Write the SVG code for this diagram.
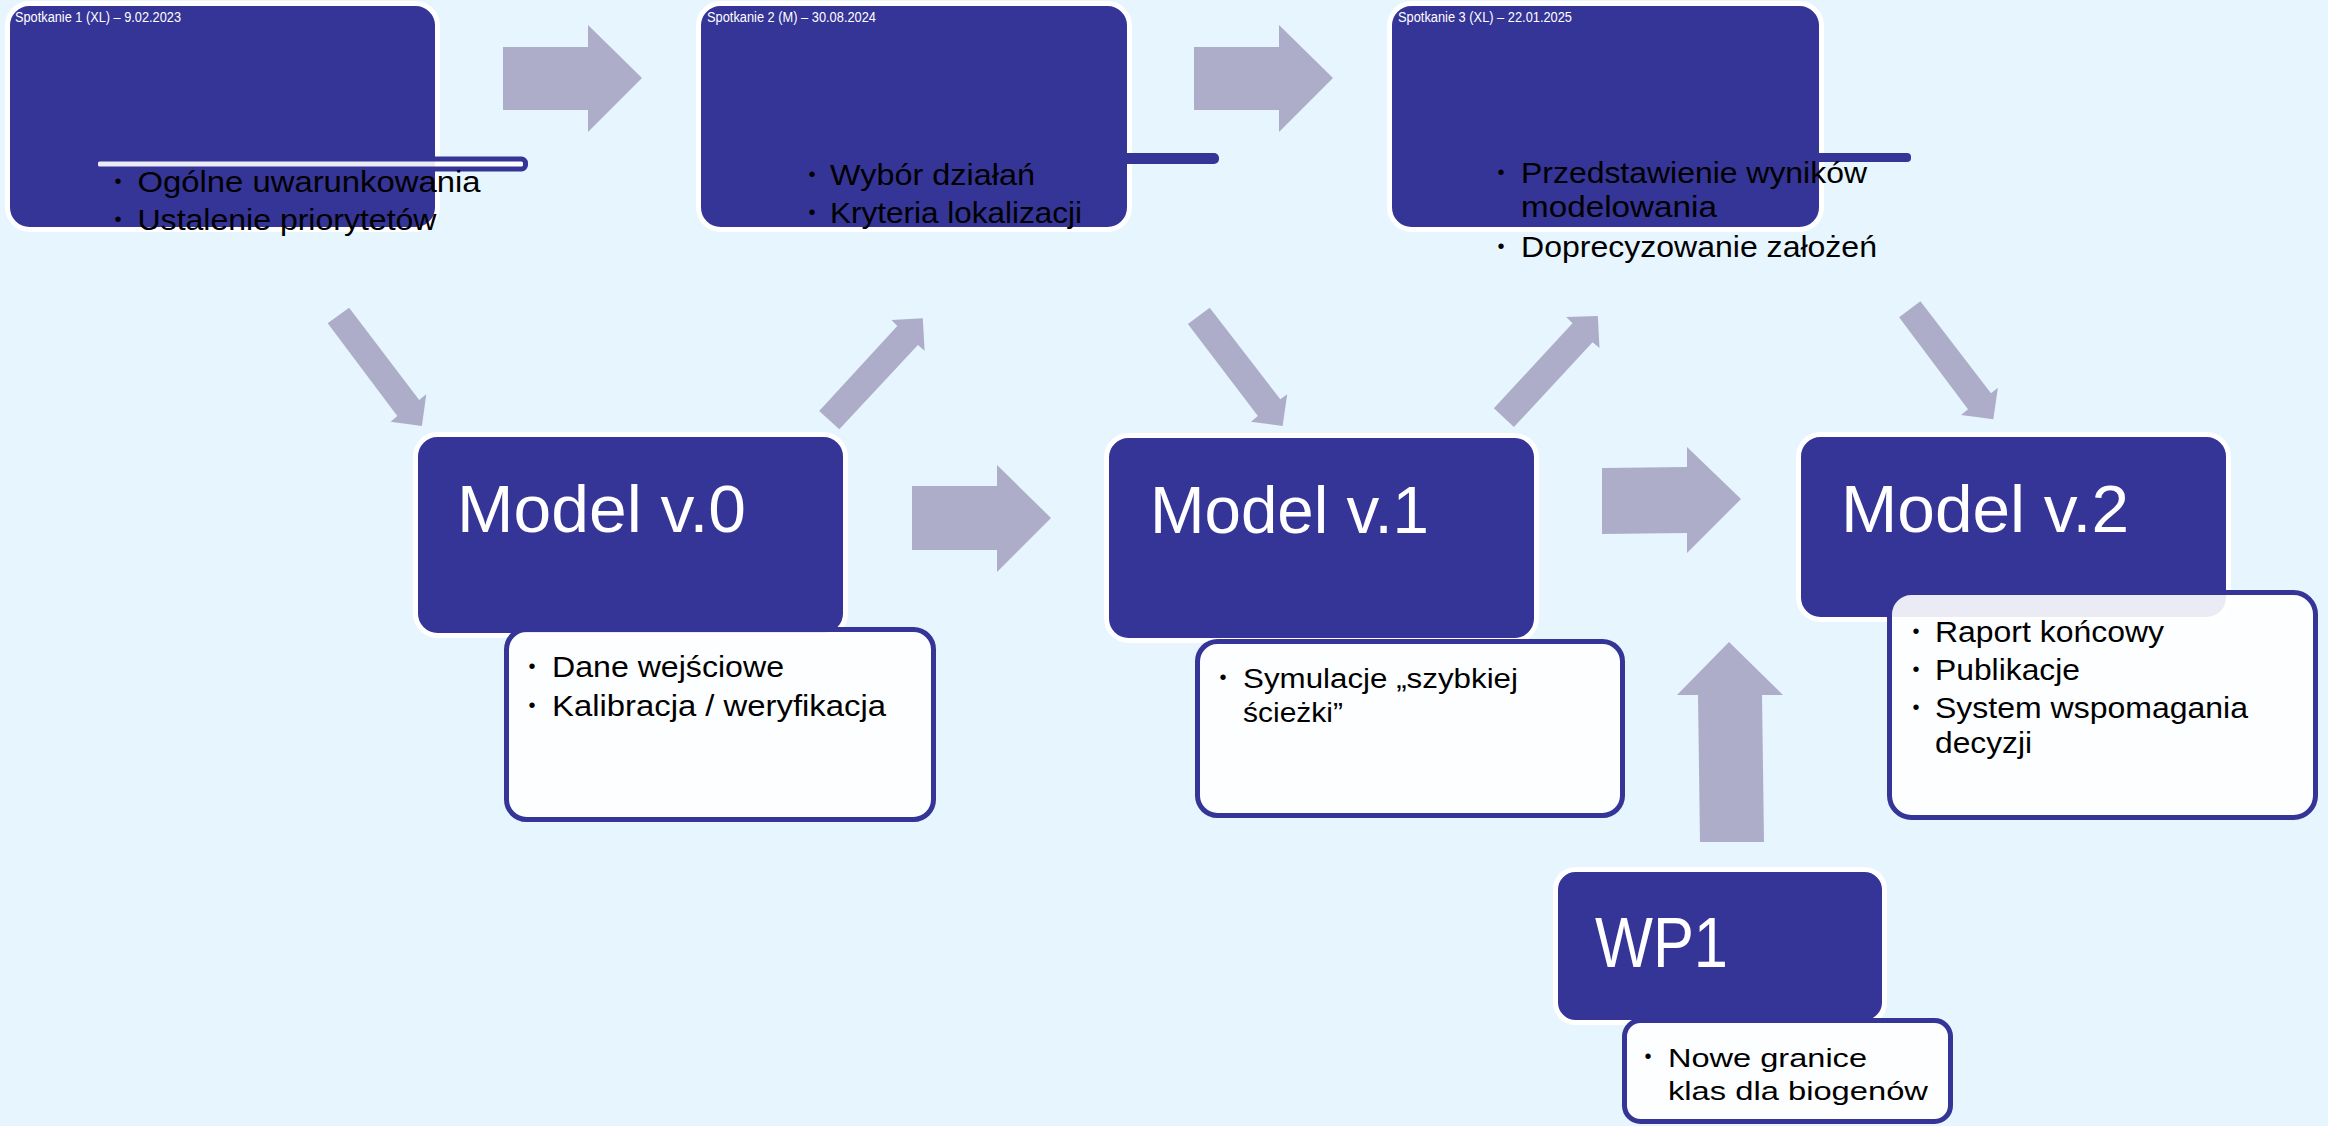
<svg xmlns="http://www.w3.org/2000/svg" width="2328" height="1126" viewBox="0 0 2328 1126">
<style>
.bg{fill:#E6F5FE}
.head{fill:#353497;stroke:#FFFFFF;stroke-width:5}
.child{fill:#FFFFFF;fill-opacity:0.9;stroke:#353497;stroke-width:5}
.arrow{fill:#ADADC9}
.bar{fill:#353497}
text{font-family:"Liberation Sans","DejaVu Sans",sans-serif}
.date{fill:#FFFFFF;font-size:14px}
.title{fill:#FFFFFF;font-size:67px}
.wp{fill:#FFFFFF;font-size:70px}
.t29{fill:#000000;font-size:29px}
.t30{fill:#000000;font-size:30px}
.t27{fill:#000000;font-size:27px}
.t26{fill:#000000;font-size:26px}
.dot{fill:#000000;font-size:20px}
</style>
<rect class="bg" x="0" y="0" width="2328" height="1126"/>

<g id="connectors">
  <polygon class="arrow" points="503,47 588,47 588,25 642,78 588,132 588,110 503,110"/>
  <polygon class="arrow" points="1194,47 1279,47 1279,25 1333,78 1279,132 1279,110 1194,110"/>
  <polygon class="arrow" points="912,486 997,486 997,465 1051,518 997,572 997,550 912,550"/>
  <polygon class="arrow" points="1602,468 1687,467 1687,447 1741,499 1687,553 1687,533 1602,534"/>
  <polygon class="arrow" points="1729,642 1783,695 1762,695 1764,842 1700,842 1698,695 1677,695"/>
  <polygon class="arrow" points="327.7,323.3 349.1,307.7 419.2,400 426.3,394.3 421.9,426 390.6,421.7 397.3,416"/>
  <polygon class="arrow" points="819.2,411 839.3,429.3 917.9,345 924.6,350.7 922.8,318.3 891.5,320 897.3,326"/>
  <polygon class="arrow" points="1187.9,324 1209.7,307.7 1280.3,399.3 1287.2,394.3 1282.6,426 1251,421.7 1257.9,416"/>
  <polygon class="arrow" points="1493.9,408.3 1513.9,427 1592.6,342.3 1599.5,348 1597.8,316 1566.2,317 1572.5,323.3"/>
  <polygon class="arrow" points="1899.1,317.3 1920.4,301.3 1991,393.3 1997.9,387.7 1993.3,419.3 1961.1,415 1968,409.3"/>
</g>

<g id="spotkanie1">
  <rect class="head" x="7.5" y="3.5" width="430" height="226" rx="22"/>
  <text class="date" x="15" y="22" textLength="166" lengthAdjust="spacingAndGlyphs">Spotkanie 1 (XL) – 9.02.2023</text>
  <rect class="child" x="95.5" y="159" width="430" height="10" rx="4" stroke-width="4"/>
  <text class="dot" x="114.5" y="188">•</text>
  <text class="t29" x="137.5" y="192" textLength="343" lengthAdjust="spacingAndGlyphs">Ogólne uwarunkowania</text>
  <text class="dot" x="114.5" y="226">•</text>
  <text class="t29" x="137.5" y="230" textLength="299" lengthAdjust="spacingAndGlyphs">Ustalenie priorytetów</text>
</g>

<g id="spotkanie2">
  <rect class="head" x="698.5" y="3.5" width="431" height="226" rx="22"/>
  <text class="date" x="707" y="22" textLength="169" lengthAdjust="spacingAndGlyphs">Spotkanie 2 (M) – 30.08.2024</text>
  <rect class="bar" x="790" y="153" width="429" height="11" rx="5"/>
  <text class="dot" x="808.5" y="181">•</text>
  <text class="t29" x="830" y="185" textLength="205" lengthAdjust="spacingAndGlyphs">Wybór działań</text>
  <text class="dot" x="808.5" y="219">•</text>
  <text class="t29" x="830" y="223" textLength="252" lengthAdjust="spacingAndGlyphs">Kryteria lokalizacji</text>
</g>

<g id="spotkanie3">
  <rect class="head" x="1389.5" y="3.5" width="432" height="226" rx="22"/>
  <text class="date" x="1398" y="22" textLength="174" lengthAdjust="spacingAndGlyphs">Spotkanie 3 (XL) – 22.01.2025</text>
  <rect class="bar" x="1480" y="153" width="431" height="9" rx="4"/>
  <text class="dot" x="1497.5" y="179">•</text>
  <text class="t29" x="1521" y="183" textLength="346" lengthAdjust="spacingAndGlyphs">Przedstawienie wyników</text>
  <text class="t29" x="1521" y="217" textLength="196" lengthAdjust="spacingAndGlyphs">modelowania</text>
  <text class="dot" x="1497.5" y="253">•</text>
  <text class="t29" x="1521" y="257" textLength="356" lengthAdjust="spacingAndGlyphs">Doprecyzowanie założeń</text>
</g>

<g id="model-v0">
  <rect class="head" x="415.5" y="434.5" width="430" height="201" rx="22"/>
  <text class="title" x="457" y="532" textLength="289" lengthAdjust="spacingAndGlyphs">Model v.0</text>
  <rect class="child" x="506.5" y="629.5" width="427" height="190" rx="20"/>
  <text class="dot" x="528.5" y="673">•</text>
  <text class="t30" x="552" y="677" textLength="232" lengthAdjust="spacingAndGlyphs">Dane wejściowe</text>
  <text class="dot" x="528.5" y="712">•</text>
  <text class="t30" x="552" y="716" textLength="334" lengthAdjust="spacingAndGlyphs">Kalibracja / weryfikacja</text>
</g>

<g id="model-v1">
  <rect class="head" x="1106.5" y="435.5" width="430" height="205" rx="22"/>
  <text class="title" x="1150" y="533" textLength="279" lengthAdjust="spacingAndGlyphs">Model v.1</text>
  <rect class="child" x="1197.5" y="641.5" width="425" height="174" rx="20"/>
  <text class="dot" x="1219.5" y="684">•</text>
  <text class="t27" x="1243" y="688" textLength="275" lengthAdjust="spacingAndGlyphs">Symulacje „szybkiej</text>
  <text class="t27" x="1243" y="722" textLength="100" lengthAdjust="spacingAndGlyphs">ścieżki”</text>
</g>

<g id="model-v2">
  <rect class="head" x="1798.5" y="434.5" width="430" height="185" rx="22"/>
  <text class="title" x="1841" y="532" textLength="288" lengthAdjust="spacingAndGlyphs">Model v.2</text>
  <rect class="child" x="1889.5" y="592.5" width="426" height="225" rx="22"/>
  <text class="dot" x="1912.5" y="638">•</text>
  <text class="t30" x="1935" y="642" textLength="229" lengthAdjust="spacingAndGlyphs">Raport końcowy</text>
  <text class="dot" x="1912.5" y="676">•</text>
  <text class="t30" x="1935" y="680" textLength="145" lengthAdjust="spacingAndGlyphs">Publikacje</text>
  <text class="dot" x="1912.5" y="714">•</text>
  <text class="t30" x="1935" y="718" textLength="313" lengthAdjust="spacingAndGlyphs">System wspomagania</text>
  <text class="t30" x="1935" y="753" textLength="97" lengthAdjust="spacingAndGlyphs">decyzji</text>
</g>

<g id="wp1">
  <rect class="head" x="1555.5" y="869.5" width="329" height="153" rx="20"/>
  <text class="wp" x="1595" y="967" textLength="133" lengthAdjust="spacingAndGlyphs">WP1</text>
  <rect class="child" x="1624.5" y="1020.5" width="326" height="101" rx="16"/>
  <text class="dot" x="1644.5" y="1063">•</text>
  <text class="t26" x="1668" y="1067" textLength="199" lengthAdjust="spacingAndGlyphs">Nowe granice</text>
  <text class="t26" x="1668" y="1100" textLength="260" lengthAdjust="spacingAndGlyphs">klas dla biogenów</text>
</g>
</svg>
